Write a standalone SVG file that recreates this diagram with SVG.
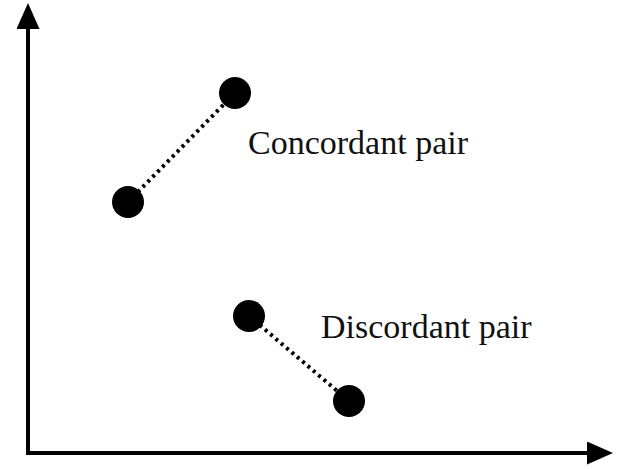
<svg xmlns="http://www.w3.org/2000/svg" width="621" height="469" viewBox="0 0 621 469">
<style>
.axis{stroke:#000;stroke-width:4;fill:none}
.dotline{stroke:#000;stroke-width:4;stroke-dasharray:3 4;fill:none}
.pt{fill:#000}
.lbl{font-family:"Liberation Serif","Times New Roman",serif;font-size:34px;fill:#111}
</style>
<defs>
<marker id="ah" viewBox="0 0 26 23" refX="0" refY="11.5" markerWidth="26" markerHeight="23" markerUnits="userSpaceOnUse" orient="auto">
<path d="M0,0 L26,11.5 L0,23 Z" fill="#000"/>
</marker>
</defs>
<rect width="621" height="469" fill="#fff"/>
<g id="axes">
<path class="axis" d="M28,453 L28,29" marker-end="url(#ah)"/>
<path class="axis" d="M26,453 L587,453" marker-end="url(#ah)"/>
</g>
<g id="connectors">
<line class="dotline" x1="128" y1="202" x2="235" y2="93"/>
<line class="dotline" x1="249" y1="316" x2="349" y2="401"/>
</g>
<g id="concordant-low"><circle class="pt" cx="128" cy="202" r="16"/></g>
<g id="concordant-high"><circle class="pt" cx="235" cy="93" r="16"/></g>
<g id="discordant-high"><circle class="pt" cx="249" cy="316" r="16"/></g>
<g id="discordant-low"><circle class="pt" cx="349" cy="401" r="16"/></g>
<g id="label-concordant"><text class="lbl" x="248" y="154">Concordant pair</text></g>
<g id="label-discordant"><text class="lbl" x="321" y="338">Discordant pair</text></g>
</svg>
